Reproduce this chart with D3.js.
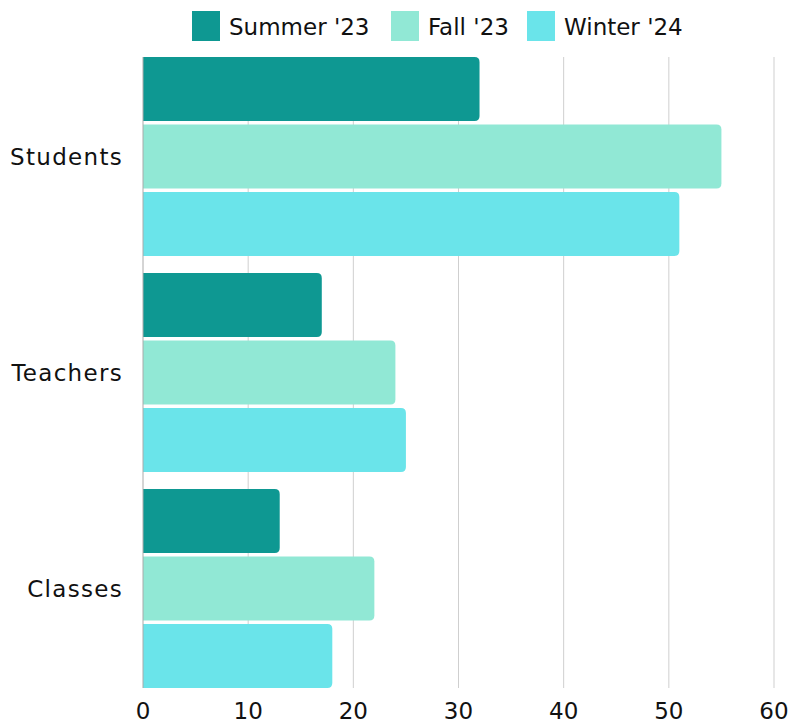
<!DOCTYPE html>
<html>
<head>
<meta charset="utf-8">
<script src="https://d3js.org/d3.v7.min.js"></script>
<style>
  body { margin: 0; background: #fff; }
  text { font-family: "DejaVu Sans", sans-serif; fill: #111; }
</style>
</head>
<body>
<script>
// chart data
var categories = ["Students", "Teachers", "Classes"];
var seriesNames = ["Summer '23", "Fall '23", "Winter '24"];
var summer23 = [32, 17, 13];
var fall23 = [55, 24, 22];
var winter24 = [51, 25, 18];
var xTicks = [0, 10, 20, 30, 40, 50, 60];
var colors = ["#0e9892", "#91e8d5", "#6ae4ea"];

var width = 790, height = 725;
var plotLeft = 143, plotRight = 774, plotTop = 57, plotBottom = 688;

var svg = d3.select("body").append("svg")
    .attr("width", width)
    .attr("height", height);

var x = d3.scaleLinear().domain([0, 60]).range([plotLeft, plotRight]);
var y = d3.scaleBand().domain(categories).range([plotTop, plotBottom])
    .paddingInner(0.079).paddingOuter(0);
var y1 = d3.scaleBand().domain(seriesNames).range([0, y.bandwidth()])
    .paddingInner(0.05);

var rows = categories.map(function (c, i) {
  return { cat: c, vals: [summer23[i], fall23[i], winter24[i]] };
});

// gridlines
svg.append("g").selectAll("line")
  .data(xTicks.slice(1))
  .enter().append("line")
    .attr("x1", function (d) { return x(d); })
    .attr("x2", function (d) { return x(d); })
    .attr("y1", plotTop)
    .attr("y2", plotBottom)
    .style("stroke", "#cfcfcf")
    .style("stroke-width", 1);

// bars with rounded right corners
function barPath(x0, x1, y0, h, r) {
  r = Math.min(r, (x1 - x0));
  return "M" + x0 + "," + y0 +
    "H" + (x1 - r) +
    "Q" + x1 + "," + y0 + " " + x1 + "," + (y0 + r) +
    "V" + (y0 + h - r) +
    "Q" + x1 + "," + (y0 + h) + " " + (x1 - r) + "," + (y0 + h) +
    "H" + x0 + "Z";
}

var groups = svg.append("g").selectAll("g")
  .data(rows)
  .enter().append("g")
    .attr("transform", function (d) { return "translate(0," + y(d.cat) + ")"; });

groups.selectAll("path")
  .data(function (d) { return d.vals.map(function (v, i) { return { s: seriesNames[i], v: v, i: i }; }); })
  .enter().append("path")
    .attr("d", function (d) { return barPath(x(0), x(d.v), y1(d.s), y1.bandwidth(), 5); })
    .style("fill", function (d) { return colors[d.i]; });

// left axis line
svg.append("line")
    .attr("x1", plotLeft).attr("x2", plotLeft)
    .attr("y1", plotTop).attr("y2", plotBottom)
    .style("stroke", "#aaa")
    .style("stroke-width", 1);

// category labels
svg.append("g").selectAll("text")
  .data(categories)
  .enter().append("text")
    .attr("x", plotLeft - 20)
    .attr("y", function (d) { return y(d) + y.bandwidth() / 2; })
    .attr("dy", "0.35em")
    .attr("text-anchor", "end")
    .style("font-size", "23px")
    .style("letter-spacing", "1.3px")
    .text(function (d) { return d; });

// x tick labels
svg.append("g").selectAll("text")
  .data(xTicks)
  .enter().append("text")
    .attr("x", function (d) { return x(d); })
    .attr("y", 711)
    .attr("dy", "0.35em")
    .attr("text-anchor", "middle")
    .style("font-size", "23px")
    .text(function (d) { return d; });

// legend
var legendX = [192, 391, 527];
var legend = svg.append("g").selectAll("g")
  .data(seriesNames)
  .enter().append("g")
    .attr("transform", function (d, i) { return "translate(" + legendX[i] + ",11)"; });
legend.append("rect")
    .attr("width", 28).attr("height", 30)
    .style("fill", function (d, i) { return colors[i]; });
legend.append("text")
    .attr("x", 37)
    .attr("y", 16)
    .attr("dy", "0.35em")
    .style("font-size", "23px")
    .text(function (d) { return d; });
</script>
</body>
</html>
